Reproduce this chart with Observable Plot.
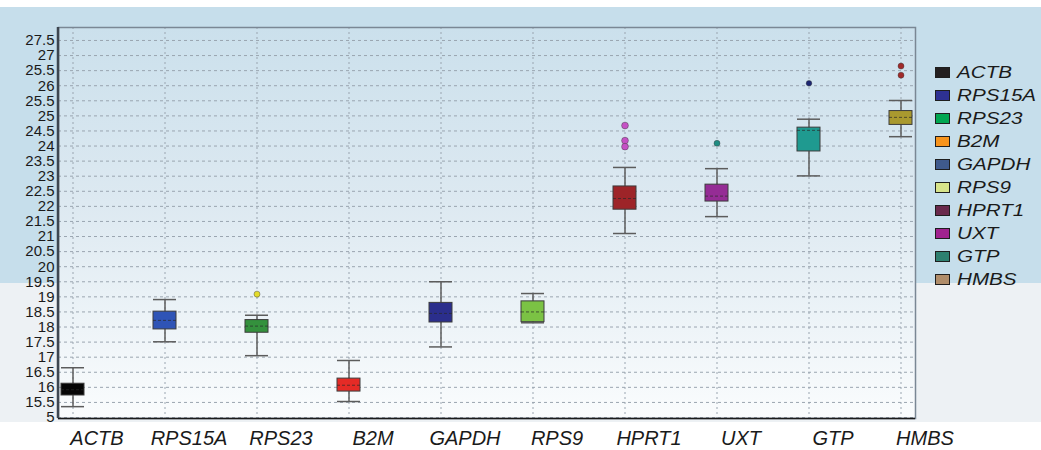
<!DOCTYPE html>
<html>
<head>
<meta charset="utf-8">
<script src="https://cdn.jsdelivr.net/npm/d3@7"></script>
<script src="https://cdn.jsdelivr.net/npm/@observablehq/plot@0.6"></script>
<style>
  html, body { margin: 0; padding: 0; background: #ffffff; }
  #wrap { position: relative; width: 1041px; height: 450px; overflow: hidden; font-family: "Liberation Sans", Arial, sans-serif; }
  .band-blue { position: absolute; left: 0; top: 7px; width: 1041px; height: 276px; background: #c6deeb; }
  .band-gray { position: absolute; left: 0; top: 283px; width: 1041px; height: 139px; background: #edf1f4; }
  #chart { position: absolute; left: 0; top: 0; }
  #chart svg { background: transparent !important; }
  #legend { position: absolute; left: 935px; top: 61px; }
  .row { height: 23px; display: flex; align-items: center; }
  .sw { width: 13px; height: 9px; border: 1.5px solid #1e1e1e; margin-right: 7px; flex: none; }
  .lab { font-style: italic; font-size: 16.5px; color: #1a1a1a; display: inline-block; transform: scaleX(1.25); transform-origin: left center; white-space: nowrap; }
</style>
</head>
<body>
<div id="wrap">
  <div class="band-blue"></div>
  <div class="band-gray"></div>
  <div id="chart"></div>
  <div id="legend"></div>
</div>
<script>
// ---- data ----
const genes = ["ACTB", "RPS15A", "RPS23", "B2M", "GAPDH", "RPS9", "HPRT1", "UXT", "GTP", "HMBS"];
const q1 = [15.73, 17.92, 17.81, 15.86, 18.15, 18.16, 21.89, 22.16, 23.82, 24.70];
const q3 = [16.12, 18.51, 18.23, 16.29, 18.80, 18.85, 22.66, 22.72, 24.61, 25.16];
const medians = [15.92, 18.22, 18.03, 16.07, 18.45, 18.50, 22.26, 22.34, 24.52, 24.95];
const whiskerLow = [15.36, 17.51, 17.05, 15.53, 17.34, 18.14, 21.10, 21.66, 23.01, 24.31];
const whiskerHigh = [16.65, 18.91, 18.39, 16.89, 19.50, 19.11, 23.29, 23.25, 24.89, 25.51];
const boxColors = ["#060606", "#2f54b6", "#34913d", "#e52b26", "#2b2e8c", "#7bc244", "#9d2428", "#952c95", "#1f9a90", "#a9992f"];

const outlierGenes = ["RPS23", "HPRT1", "HPRT1", "HPRT1", "UXT", "GTP", "HMBS", "HMBS"];
const outlierValues = [19.09, 24.68, 24.18, 23.98, 24.09, 26.08, 26.65, 26.35];
const outlierColors = ["#e4dc2c", "#c552c5", "#c552c5", "#c552c5", "#1f8c82", "#1d2672", "#a12a2a", "#a12a2a"];
const outlierRadii = [3, 3.4, 3.4, 3.4, 3, 2.8, 3, 3];

const legendColors = ["#231f20", "#2e3192", "#00a651", "#f7941d", "#3f5a8c", "#d7e48a", "#6a2a4c", "#a0228f", "#2e8070", "#b08d6a"];

const yTickValues = [15, 15.5, 16, 16.5, 17, 17.5, 18, 18.5, 19, 19.5, 20, 20.5, 21, 21.5, 22, 22.5, 23, 23.5, 24, 24.5, 25, 25.5, 26, 26.5, 27, 27.5];
const yTickLabels = ["5", "15.5", "16", "16.5", "17", "17.5", "18", "18.5", "19", "19.5", "20", "20.5", "21", "21.5", "22", "22.5", "23", "23.5", "24", "24.5", "25", "25.5", "26", "25.5", "27", "27.5"];
const yDomain = [14.967, 27.93];

// ---- tables built from the arrays ----
const boxes = genes.map((g, i) => ({gene: g, q1: q1[i], q3: q3[i], med: medians[i], lo: whiskerLow[i], hi: whiskerHigh[i], color: boxColors[i]}));
const outliers = outlierGenes.map((g, i) => ({gene: g, value: outlierValues[i], color: outlierColors[i], r: outlierRadii[i]}));
const labelOf = new Map(yTickValues.map((v, i) => [v, yTickLabels[i]]));

const font = "'Liberation Sans', Arial, sans-serif";

const plot = Plot.plot({
  width: 1041,
  height: 450,
  marginLeft: 58,
  marginRight: 126,
  marginTop: 27,
  marginBottom: 32,
  style: {fontFamily: font, background: "transparent", color: "#1a1a1a"},
  x: {type: "band", domain: genes, paddingInner: 0.75, paddingOuter: 0.0125, label: null},
  y: {domain: yDomain, label: null},
  marks: [
    Plot.frame({fill: "url(#plotbg)", stroke: "none"}),
    Plot.ruleY(yTickValues, {stroke: "#9aa5b0", strokeDasharray: "3,3", strokeWidth: 1}),
    Plot.ruleX(genes, {x: d => d, stroke: "#9aa5b0", strokeDasharray: "2,3", strokeWidth: 1}),
    Plot.ruleX(boxes, {x: "gene", y1: "lo", y2: "hi", stroke: "#5c5c5c", strokeWidth: 1.5}),
    Plot.tickY(boxes, {x: "gene", y: "lo", stroke: "#5c5c5c", strokeWidth: 1.5}),
    Plot.tickY(boxes, {x: "gene", y: "hi", stroke: "#5c5c5c", strokeWidth: 1.5}),
    Plot.barY(boxes, {x: "gene", y1: "q1", y2: "q3", fill: "color", stroke: "#3c3c3c", strokeWidth: 1}),
    Plot.tickY(boxes, {x: "gene", y: "med", stroke: "#2a2a2a", strokeOpacity: 0.7, strokeDasharray: "3,2", strokeWidth: 1}),
    Plot.dot(outliers, {x: "gene", y: "value", fill: "color", r: "r", stroke: "#333", strokeOpacity: 0.5, strokeWidth: 0.8}),
    Plot.frame({stroke: "#7a8794", strokeWidth: 1.5}),
    Plot.ruleY([yDomain[0]], {stroke: "#1a1a1a", strokeWidth: 1.5}),
    Plot.axisY(yTickValues, {tickSize: 0, tickPadding: 4, fontSize: 15, tickFormat: v => labelOf.get(v), label: null}),
    Plot.axisX({tickSize: 0, tickPadding: 12, fontSize: 20, fontStyle: "italic", dx: 24, label: null})
  ],
  r: {type: "identity"},
  color: {type: "identity"}
});

// gradient for the plot area background
const svg = d3.select(plot.tagName === "svg" ? plot : plot.querySelector("svg"));
const defs = svg.insert("defs", ":first-child");
const grad = defs.append("linearGradient").attr("id", "plotbg").attr("x1", 0).attr("y1", 0).attr("x2", 0).attr("y2", 1);
grad.append("stop").attr("offset", "0%").attr("stop-color", "#cbe0ec");
grad.append("stop").attr("offset", "45%").attr("stop-color", "#dde9f1");
grad.append("stop").attr("offset", "100%").attr("stop-color", "#fafcfd");

// left axis line, darker
svg.append("line").attr("x1", 58).attr("x2", 58).attr("y1", 27).attr("y2", 418).attr("stroke", "#3d4650").attr("stroke-width", 2.5);

document.getElementById("chart").appendChild(plot);

// legend
const legend = d3.select("#legend");
genes.forEach((g, i) => {
  const row = legend.append("div").attr("class", "row");
  row.append("div").attr("class", "sw").style("background", legendColors[i]);
  row.append("span").attr("class", "lab").text(g);
});
</script>
</body>
</html>
